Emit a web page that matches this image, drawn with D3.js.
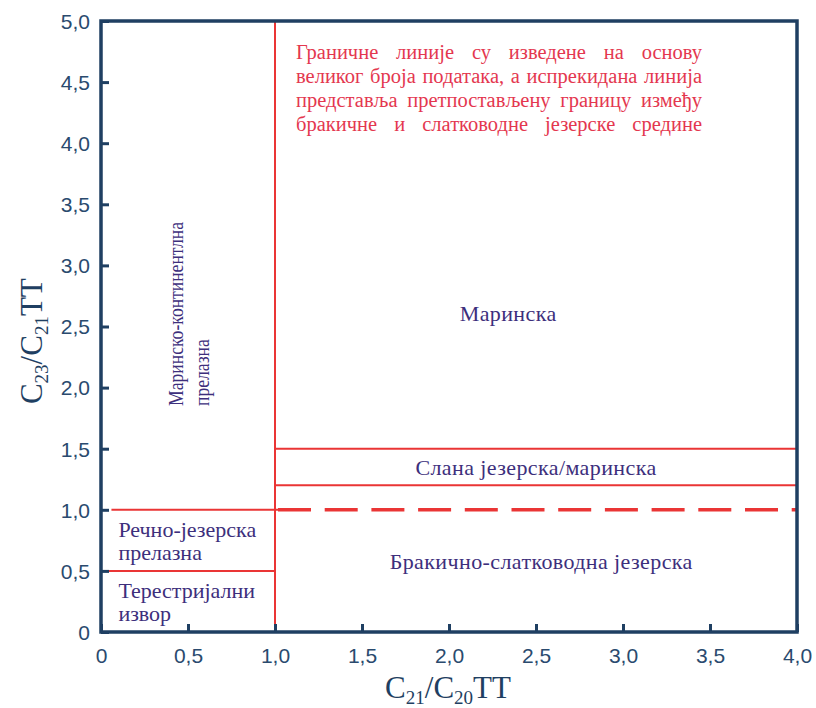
<!DOCTYPE html>
<html>
<head>
<meta charset="utf-8">
<script src="https://cdn.jsdelivr.net/npm/d3@7"></script>
<style>
  html, body { margin: 0; padding: 0; background: #fff; }
  svg { display: block; }
</style>
</head>
<body>
<svg id="chart" width="816" height="708"></svg>
<script>
// Axis domains and tick values
const xDomain = [0, 4];
const yDomain = [0, 5];
const xTicks = [0, 0.5, 1, 1.5, 2, 2.5, 3, 3.5, 4];
const yTicks = [0, 0.5, 1, 1.5, 2, 2.5, 3, 3.5, 4, 4.5, 5];

// Boundary lines between environments (data units)
const boundaries = [
  { x1: 1, x2: 1, y1: 0, y2: 5, dashed: false },
  { x1: 0, x2: 1, y1: 0.5, y2: 0.5, dashed: false },
  { x1: 0.06, x2: 1.185, y1: 1.0, y2: 1.0, dashed: false },
  { x1: 1, x2: 4, y1: 1.0, y2: 1.0, dashed: true },
  { x1: 1, x2: 4, y1: 1.2, y2: 1.2, dashed: false },
  { x1: 1, x2: 4, y1: 1.5, y2: 1.5, dashed: false }
];

// Region names: [x, y, text, anchor]
const regionLabels = [
  [2.34, 2.61, "Маринска", "middle"],
  [2.5, 1.35, "Слана језерска/маринска", "middle"],
  [2.53, 0.58, "Бракично-слатководна језерска", "middle"],
  [0.1, 0.84, "Речно-језерска", "start"],
  [0.1, 0.65, "прелазна", "start"],
  [0.1, 0.34, "Терестријални", "start"],
  [0.1, 0.15, "извор", "start"]
];
// Vertical region name, one entry per line
const verticalLabel = ["Маринско-континентлна", "прелазна"];

// Note lines, justified as a block to the right of the x = 1 boundary
const noteLines = [
  "Граничне линије су изведене на основу",
  "великог броја података, а испрекидана линија",
  "представља претпостављену границу између",
  "бракичне и слатководне језерске средине"
];

const svg = d3.select("#chart");
const margin = { left: 101, right: 19, top: 21, bottom: 76 };
const W = 816, H = 708;
const x = d3.scaleLinear().domain(xDomain).range([margin.left, W - margin.right]);
const y = d3.scaleLinear().domain(yDomain).range([H - margin.bottom, margin.top]);

const axisColor = "#1f3f62";
const tickTextColor = "#2a4a6e";
const red = "#ea3535";
const labelColor = "#3d2f7c";
const noteColor = "#e4374f";
const serifFont = "'Liberation Serif'";
const sansFont = "'Liberation Sans'";
const fmt = d => d === 0 ? "0" : d3.format(".1f")(d).replace(".", ",");

// Boundary lines
svg.append("g").selectAll("line").data(boundaries).join("line")
  .attr("x1", d => x(d.x1)).attr("x2", d => x(d.x2))
  .attr("y1", d => y(d.y1)).attr("y2", d => y(d.y2))
  .attr("stroke", red)
  .attr("stroke-width", d => d.dashed ? 3.4 : 2)
  .attr("stroke-dasharray", d => d.dashed ? "33 13.7" : null)
  .attr("stroke-dashoffset", d => d.dashed ? 43.7 : null);

// Axes with inward ticks
const xAxis = d3.axisBottom(x).tickValues(xTicks).tickFormat(fmt).tickSizeInner(-8).tickSizeOuter(0).tickPadding(16);
const yAxis = d3.axisLeft(y).tickValues(yTicks).tickFormat(fmt).tickSizeInner(-8).tickSizeOuter(0).tickPadding(11);

const gx = svg.append("g").attr("transform", `translate(0,${y(0)})`).call(xAxis);
const gy = svg.append("g").attr("transform", `translate(${x(0)},0)`).call(yAxis);
[gx, gy].forEach(g => {
  g.select(".domain").remove();
  g.selectAll(".tick line").attr("stroke", axisColor).attr("stroke-width", 3);
  g.selectAll(".tick text")
    .attr("fill", tickTextColor)
    .attr("font-family", sansFont)
    .attr("font-size", "21px");
});
gx.selectAll(".tick text").attr("dy", "0.71em");
gy.selectAll(".tick text").attr("dy", "0.35em");

// Frame
svg.append("rect")
  .attr("x", x(0)).attr("y", y(5))
  .attr("width", x(4) - x(0)).attr("height", y(0) - y(5))
  .attr("fill", "none").attr("stroke", axisColor).attr("stroke-width", 3.5);

// Region labels
svg.append("g").selectAll("text").data(regionLabels).join("text")
  .attr("x", d => x(d[0])).attr("y", d => y(d[1]))
  .attr("text-anchor", d => d[3])
  .attr("dy", "0.35em")
  .attr("fill", labelColor)
  .attr("font-family", serifFont).attr("font-size", "22px")
  .attr("letter-spacing", d => d[3] === "middle" ? 0.4 : 0)
  .text(d => d[2]);

// Rotated, horizontally condensed label in the left column
svg.append("g")
  .attr("transform", `translate(${x(0.47)},${y(1.85)}) rotate(-90) scale(0.8,1)`)
  .selectAll("text").data(verticalLabel).join("text")
  .attr("x", 0).attr("y", (d, i) => i * 26)
  .attr("fill", labelColor)
  .attr("font-family", serifFont).attr("font-size", "22px")
  .text(d => d);

// Justified note block
const noteLeft = x(1) + 21, noteRight = x(1) + 427;
const note = svg.append("g").attr("fill", noteColor)
  .attr("font-family", serifFont).attr("font-size", "20.5px");
noteLines.forEach((line, i) => {
  const words = line.split(" ");
  const baseline = y(5) + 38 + i * 24;
  const nodes = words.map(w => note.append("text").attr("y", baseline).text(w));
  const widths = nodes.map(n => n.node().getComputedTextLength());
  const gap = (noteRight - noteLeft - d3.sum(widths)) / (words.length - 1);
  let cx = noteLeft;
  nodes.forEach((n, k) => { n.attr("x", cx); cx += widths[k] + gap; });
});

// Axis titles with subscripts
function title(g, parts) {
  const t = g.append("text").attr("fill", axisColor)
    .attr("font-family", serifFont).attr("font-size", "31px")
    .attr("text-anchor", "middle");
  parts.forEach(([s, sub], k) => {
    t.append("tspan")
      .attr("font-size", sub ? "19px" : null)
      .attr("dy", sub ? 6 : (k > 0 ? -6 : 0))
      .text(s);
  });
  return t;
}
const xt = svg.append("g").attr("transform", `translate(${x(2) - 1},${H - 10})`);
title(xt, [["C"], ["21", true], ["/C"], ["20", true], ["TT"]]);
const yt = svg.append("g").attr("transform", `translate(42,${y(2.38)}) rotate(-90)`);
title(yt, [["C"], ["23", true], ["/C"], ["21", true], ["TT"]]);
</script>
</body>
</html>
